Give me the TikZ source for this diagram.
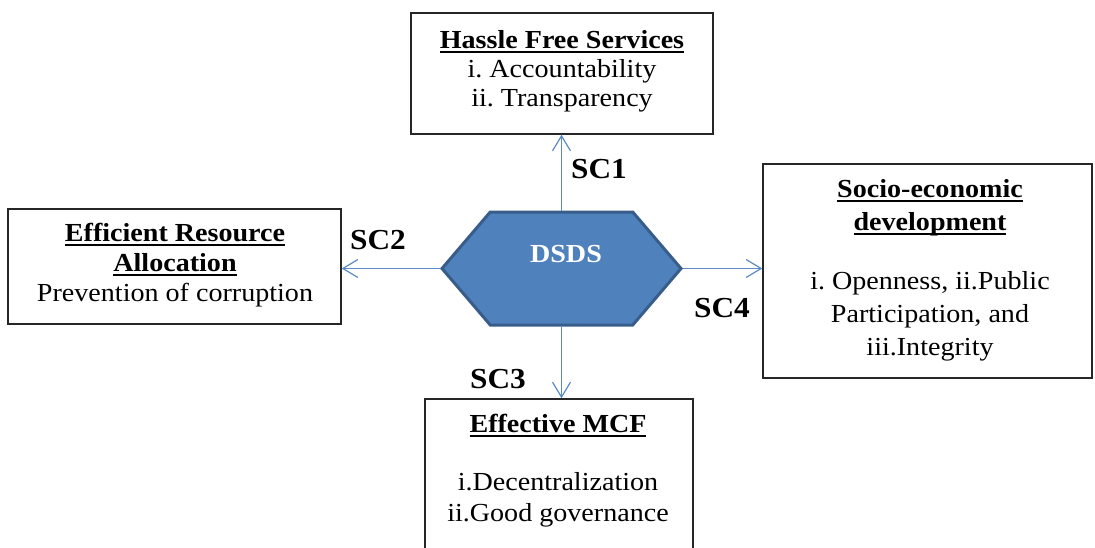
\documentclass[tikz,border=0pt]{standalone}
\usepackage{fontspec}
\setmainfont{Liberation Serif}[FakeStretch=1.08]
\usetikzlibrary{arrows.meta,shapes.symbols}
\definecolor{hexfill}{HTML}{4F81BD}
\definecolor{hexline}{HTML}{385D8A}
\definecolor{conncol}{HTML}{5B8BC6}
\newsavebox\ulbox
\newcommand\ulx[1]{\sbox\ulbox{#1}\rlap{\rule[-4.5pt]{\wd\ulbox}{1.8pt}}\usebox\ulbox}
\frenchspacing
\tikzset{
  box/.style={draw=black!85, line width=1.4pt, inner sep=0pt, fill=white},
  txt/.style={align=center, inner sep=0pt, anchor=north},
  sclab/.style={inner sep=0pt, font=\fontsize{29}{32}\selectfont\bfseries},
  conn/.style={draw=conncol, line width=1.3pt, -{Straight Barb[length=15pt,width=18pt,line width=1.2pt]}},
}
\begin{document}
\begin{tikzpicture}[x=1pt,y=-1pt]
\useasboundingbox (0,0) rectangle (1095,547);
\clip (0,0) rectangle (1095,547);
% boxes
\node[box, minimum width=302, minimum height=121] (topbox) at (562,73.5) {};
\node[box, minimum width=333, minimum height=115] (leftbox) at (174.5,266.5) {};
\node[box, minimum width=329, minimum height=214] (rightbox) at (927.5,271) {};
\node[box, minimum width=268, minimum height=171] (botbox) at (559,484.5) {};
% hexagon
\node[signal, signal to=east and west, signal pointer angle=99,
      minimum width=239, minimum height=113, inner sep=0pt,
      fill=hexfill, draw=hexline, line width=3pt] (dsds) at (561.5,268.5) {};
\node[inner sep=0pt, text=white, font=\fontsize{26}{30}\selectfont\bfseries] (dsdslabel) at (566,254) {DSDS};
% texts
\node[txt, font=\fontsize{26}{29}\selectfont] (toptext) at (562,27.5)
  {\strut\ulx{\textbf{Hassle Free Services}}\\ i. Accountability\\ ii. Transparency};
\node[txt, font=\fontsize{26}{30}\selectfont] (lefttext) at (175,220)
  {\strut\ulx{\textbf{Efficient Resource}}\\ \ulx{\textbf{Allocation}}\\ Prevention of corruption};
\node[txt, font=\fontsize{26}{33}\selectfont] (righttext) at (930,174)
  {\strut\ulx{\textbf{Socio-economic}}\\ \ulx{\textbf{development}}\\[26pt] i. Openness, ii.Public\\ Participation, and\\ iii.Integrity};
\node[txt, font=\fontsize{26}{31}\selectfont] (bottext) at (558,410.5)
  {\strut\ulx{\textbf{Effective MCF}}\\[27pt] i.Decentralization\\ ii.Good governance};
% connectors
\draw[conn] (dsds.north) -- (dsds.north |- topbox.south);
\draw[conn] (dsds.west) -- (dsds.west -| leftbox.east);
\draw[conn] (dsds.east) -- (dsds.east -| rightbox.west);
\draw[conn] (dsds.south) -- (dsds.south |- botbox.north);
% labels
\node[sclab] (sc1) at (599,169) {SC1};
\node[sclab] (sc2) at (378,240) {SC2};
\node[sclab] (sc3) at (498,379) {SC3};
\node[sclab] (sc4) at (722,308) {SC4};
\end{tikzpicture}
\end{document}
